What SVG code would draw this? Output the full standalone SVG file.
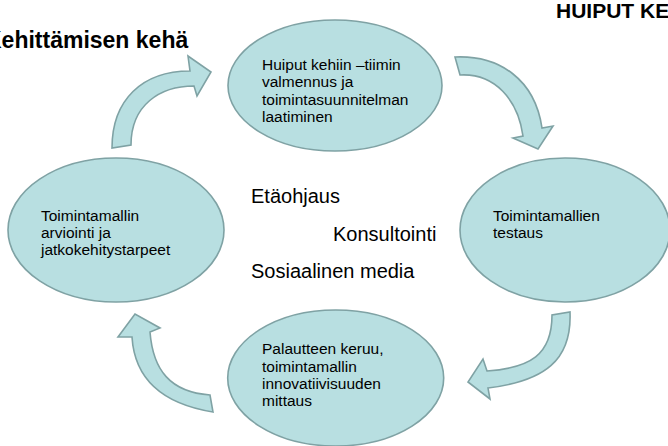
<svg xmlns="http://www.w3.org/2000/svg" width="668" height="446" viewBox="0 0 668 446">
<style>
.node{fill:#b8dfe1;stroke:#7fa2a4;stroke-width:1.6}
.arr{fill:#b8dfe1;stroke:#7fa2a4;stroke-width:1.6;stroke-linejoin:miter}
text{font-family:"Liberation Sans",Arial,sans-serif;fill:#000}
.t{font-size:15.5px}
.c{font-size:20px}
.h{font-size:23px;font-weight:bold}
</style>
<rect width="668" height="446" fill="#fff"/>
<text class="h" x="-15" y="48">Kehittämisen kehä</text>
<text class="h" x="556" y="18" style="font-size:21px">HUIPUT KE</text>
<g id="connectors">
<path class="arr" d="M112,148 C112,100 142,71 190,71 L188,56 L211,72 L197,96 L194,86 C160,86 131,105 131,145 Z"/>
<path class="arr" d="M455,57 C500,55 535,80 542,128 L553,126 L538,149 L513,138 L523,136 C518,100 495,73 460,75 Z"/>
<path class="arr" d="M552,315 C552,355 530,368 487,371 L483,359 L468,382 L490,399 L488,388 C545,381 572,360 570,312 Z"/>
<path class="arr" d="M213,412 C170,405 135,385 132,337 L118,337 L135,314 L160,328 L150,332 C153,370 170,392 210,395 Z"/>
</g>
<g id="n-top">
<ellipse class="node" cx="335" cy="85.5" rx="107" ry="65.5"/>
<text class="t" x="262" y="70">Huiput kehiin –tiimin</text>
<text class="t" x="262" y="87.3">valmennus ja</text>
<text class="t" x="262" y="104.6">toimintasuunnitelman</text>
<text class="t" x="262" y="121.9">laatiminen</text>
</g>
<g id="n-right">
<ellipse class="node" cx="565" cy="230" rx="105" ry="72"/>
<text class="t" x="493" y="221">Toimintamallien</text>
<text class="t" x="493" y="238.3">testaus</text>
</g>
<g id="n-bottom">
<ellipse class="node" cx="335.7" cy="378" rx="108" ry="68"/>
<text class="t" x="262" y="354.3">Palautteen keruu,</text>
<text class="t" x="262" y="371.6">toimintamallin</text>
<text class="t" x="262" y="388.9">innovatiivisuuden</text>
<text class="t" x="262" y="406.2">mittaus</text>
</g>
<g id="n-left">
<ellipse class="node" cx="116" cy="230" rx="108" ry="72"/>
<text class="t" x="41" y="220.7">Toimintamallin</text>
<text class="t" x="41" y="238">arviointi ja</text>
<text class="t" x="41" y="255.3">jatkokehitystarpeet</text>
</g>
<g id="center">
<text class="c" x="251" y="203">Etäohjaus</text>
<text class="c" x="333" y="241">Konsultointi</text>
<text class="c" x="251" y="278">Sosiaalinen media</text>
</g>
</svg>
